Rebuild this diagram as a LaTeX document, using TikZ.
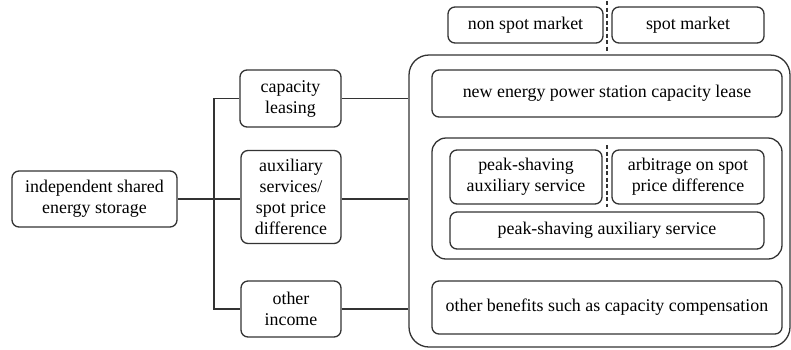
\documentclass[tikz,border=0pt]{standalone}
\usepackage{fontspec}
\setmainfont{Liberation Serif}
\begin{document}
\begin{tikzpicture}[x=1pt,y=-1pt,
  every node/.style={font=\fontsize{17.9}{21}\selectfont},
  box/.style={draw=black!80, line width=1.3pt, rounded corners=7pt, align=center,
    inner sep=0pt, anchor=center},
  link/.style={draw=black!80, line width=1.3pt},
  split/.style={draw=black!80, line width=1.3pt, dash pattern=on 4pt off 2.5pt}]
\useasboundingbox (0,0) rectangle (791,349);
% left branch
\node[box, minimum width=165pt, minimum height=56pt] (root) at (94.5,199) {independent shared\\energy storage};
\node[box, minimum width=101pt, minimum height=57pt] (cap) at (290.5,98.5) {capacity\\leasing};
\node[box, minimum width=100pt, minimum height=93pt] (aux) at (291,197) {auxiliary\\services/\\spot price\\difference};
\node[box, minimum width=100pt, minimum height=56pt] (oth) at (291,309) {other\\income};
% right panel
\node[box, rounded corners=20pt, minimum width=381pt, minimum height=292pt] (big) at (599.5,201) {};
\node[box, minimum width=155pt, minimum height=36pt] (nonspot) at (525.5,25) {non spot market};
\node[box, minimum width=152pt, minimum height=36pt] (spot) at (688,25) {spot market};
\node[box, minimum width=350pt, minimum height=47pt] (lease) at (607,93.5) {new energy power station capacity lease};
\node[box, rounded corners=14pt, minimum width=350pt, minimum height=121pt] (grp) at (607,198.5) {};
\node[box, minimum width=152pt, minimum height=54pt] (psa) at (526,177) {peak-shaving\\auxiliary service};
\node[box, minimum width=152pt, minimum height=54pt] (arb) at (688,177) {arbitrage on spot\\price difference};
\node[box, minimum width=314pt, minimum height=37pt] (psw) at (607,230.5) {peak-shaving auxiliary service};
\node[box, minimum width=350pt, minimum height=53pt] (ben) at (607,307.5) {other benefits such as capacity compensation};
% market dividers
\coordinate (dtop) at (607,1);
\coordinate (dbot) at (607,52);
\coordinate (mtop) at (607,145);
\coordinate (mbot) at (607,207);
\draw[split] (dtop) -- (dbot);
\draw[split] (mtop) -- (mbot);
% connectors
\coordinate (trunk) at (214,199);
\draw[link] (root.east |- trunk) -- (aux.west |- trunk);
\draw[link] (cap.west) -- (cap.west -| trunk) -- (oth.west -| trunk) -- (oth.west);
\draw[link] (cap.east) -- (cap.east -| big.west);
\draw[link] (aux.east |- trunk) -- (big.west |- trunk);
\draw[link] (oth.east) -- (oth.east -| big.west);
\end{tikzpicture}
\end{document}
